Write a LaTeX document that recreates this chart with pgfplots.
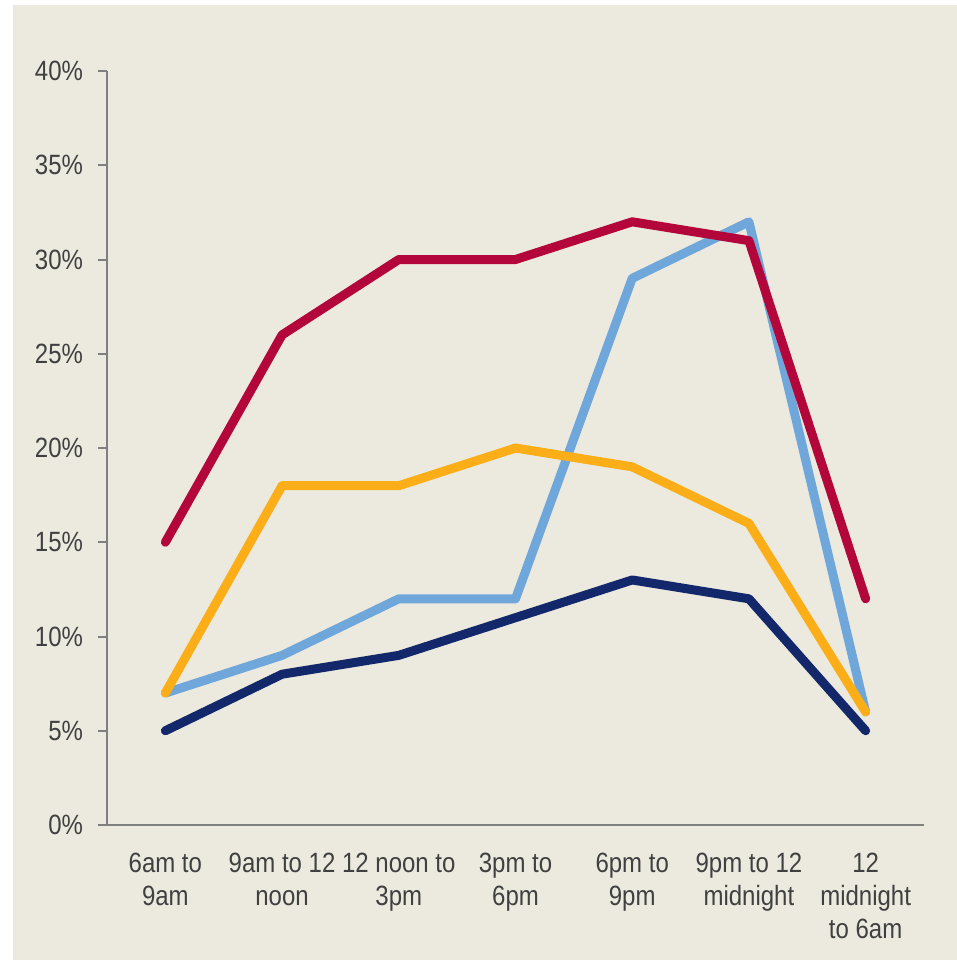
\documentclass[border=0pt]{standalone}
\usepackage{fontspec}
\setmainfont{Liberation Sans}[FakeStretch=0.86]
\usepackage{pgfplots}
\pgfplotsset{compat=1.18}

\definecolor{bgbeige}{HTML}{ECEADF}
\definecolor{txtgray}{HTML}{404040}
\definecolor{axgray}{HTML}{808080}
\definecolor{crimson}{HTML}{B3063A}
\definecolor{skyblue}{HTML}{6FA7DA}
\definecolor{amber}{HTML}{FBAE17}
\definecolor{navy}{HTML}{12286A}

\begin{document}
\begin{tikzpicture}
  % page 957x960 px, 1 px = 0.5bp
  \path[use as bounding box] (0,0) rectangle (478.5bp,-480bp);
  \fill[bgbeige] (6.5bp,-2.5bp) rectangle (478.5bp,-480bp);
  \begin{axis}[
    at={(53.5bp,-412.5bp)}, anchor=south west,
    scale only axis,
    width=408.5bp, height=377bp,
    xmin=-0.5, xmax=6.5,
    ymin=0, ymax=40,
    axis lines*=left,
    axis line style={axgray, line width=1bp},
    xtick={0,...,6},
    xticklabels={{6am to\\9am},{9am to 12\\noon},{12 noon to\\3pm},{3pm to\\6pm},{6pm to\\9pm},{9pm to 12\\midnight},{12\\midnight\\to 6am}},
    minor xtick={-0.5,0.5,...,6.5},
    ytick={0,5,...,40},
    yticklabels={0\%,5\%,10\%,15\%,20\%,25\%,30\%,35\%,40\%},
    tick align=outside,
    major tick length=4.5bp,
    minor tick length=4.5bp,
    xtick style={draw=none},
    minor tick style={axgray, line width=1bp},
    ytick style={axgray, line width=1bp},
    tick label style={font=\fontsize{14}{16.5}\selectfont, color=txtgray},
    xticklabel style={align=center, yshift=-6bp},
    yticklabel style={xshift=-4bp},
    every axis plot/.append style={line width=4.5bp, line cap=round, line join=round},
    clip=false,
  ]
    % drawing order: blue under the others, red on top
    \addplot[skyblue]
      coordinates {(0,7) (1,9) (2,12) (3,12) (4,29) (5,32) (6,6)};
    \addplot[navy]
      coordinates {(0,5) (1,8) (2,9) (3,11) (4,13) (5,12) (6,5)};
    \addplot[amber]
      coordinates {(0,7) (1,18) (2,18) (3,20) (4,19) (5,16) (6,6)};
    \addplot[crimson]
      coordinates {(0,15) (1,26) (2,30) (3,30) (4,32) (5,31) (6,12)};
  \end{axis}
\end{tikzpicture}
\end{document}
